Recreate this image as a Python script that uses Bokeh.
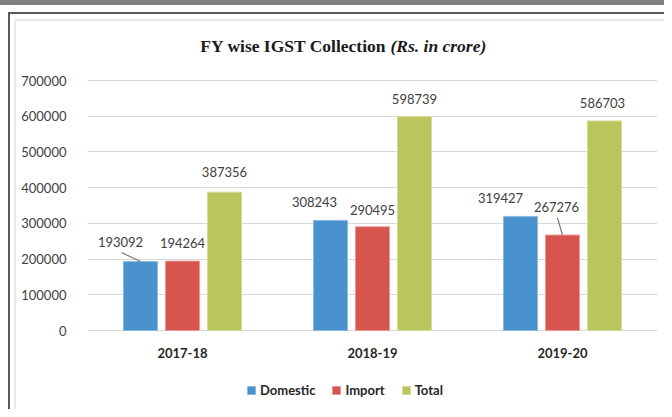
from bokeh.plotting import figure
from bokeh.models import (FactorRange, Range1d, FixedTicker, NumeralTickFormatter, Legend,
                          LegendItem, Label, ColumnDataSource)
from bokeh.transform import dodge
from bokeh.core.properties import value
from bokeh.embed import file_html
from bokeh.resources import INLINE

# ---- data ----
years = ["2017-18", "2018-19", "2019-20"]
domestic = [193092, 308243, 319427]
imports = [194264, 290495, 267276]
total = [387356, 598739, 586703]
series_names = ["Domestic", "Import", "Total"]
y_ticks = [0, 100000, 200000, 300000, 400000, 500000, 600000, 700000]

# ---- style ----
colors = ["#4A92CD", "#D8544F", "#BAC65C"]
edge = ["#8DB8E0", "#E89A97", "#D3DB9B"]
offsets = [-0.221, 0.0, 0.221]
bar_w = 0.179
# label nudges in px (per series, per year); negative dy = up
lab_dx = [[-20, -16, -20], [0, 0, -6], [0, 0, -2]]
lab_dy = [[-20, -18, -18], [-18, -17, -28], [-20, -18, -18]]
PX_X = 1 / 190.0     # category units per px
PX_Y = 2800.0        # data units per px
FONT = "Lato"

p = figure(x_range=FactorRange(*years), y_range=Range1d(-221200, 924000),
           width=664, height=409, output_backend="svg", toolbar_location=None,
           min_border_left=87, min_border_right=7, min_border_top=0, min_border_bottom=0)
p.outline_line_color = None
p.background_fill_color = None
p.border_fill_color = None
p.styles = {"box-shadow": ("inset 0 5px 0 0 #808080, inset 8px 12px 0 0 #ffffff, "
                           "inset 10px 14px 0 0 #5a5a5a, inset 14px 19px 0 0 #ffffff, "
                           "inset 16px 21px 0 0 #e8e8e8"),
            "background-color": "#ffffff"}
p.xgrid.grid_line_color = None
p.ygrid.grid_line_color = "#D9D9D9"
p.ygrid.grid_line_width = 1
p.ygrid.ticker = FixedTicker(ticks=y_ticks)

p.yaxis.ticker = FixedTicker(ticks=y_ticks)
p.yaxis.formatter = NumeralTickFormatter(format="0")
p.yaxis.axis_line_color = None
p.yaxis.major_tick_line_color = None
p.yaxis.minor_tick_line_color = None
p.yaxis.major_label_standoff = 15
p.yaxis.major_label_text_font = FONT
p.yaxis.major_label_text_font_size = "13px"
p.yaxis.major_label_text_color = "#404040"
p.xaxis.visible = False

# category labels (drawn in the frame, under the baseline)
p.text(x=years, y=[0] * len(years), text=years, y_offset=22,
       text_align="center", text_baseline="middle", text_font=value(FONT),
       text_font_style="bold", text_font_size="13px", text_color="#262626")

all_vals = [domestic, imports, total]
items = []
for i, (name, vals) in enumerate(zip(series_names, all_vals)):
    src = ColumnDataSource(dict(x=years, top=vals,
                                label=[str(v) for v in vals],
                                dx=lab_dx[i], dy=lab_dy[i]))
    r = p.vbar(x=dodge("x", offsets[i], range=p.x_range), top="top", bottom=0,
               width=bar_w, source=src, fill_color=colors[i], line_color=edge[i], line_width=1)
    items.append(LegendItem(label=name, renderers=[r]))
    p.text(x=dodge("x", offsets[i], range=p.x_range), y="top", text="label", source=src,
           x_offset="dx", y_offset="dy", text_align="center", text_baseline="middle",
           text_font=value(FONT), text_font_size="13px", text_color="#404040")

# leader lines (from label to bar top)
lead = [(0, 0), (1, 2)]
for s, c in lead:
    v = all_vals[s][c]
    src = ColumnDataSource(dict(x=[years[c]], y0=[v + (-lab_dy[s][c] - 11) * PX_Y], y1=[v]))
    p.segment(x0=dodge("x", offsets[s] + (lab_dx[s][c] + 1) * PX_X, range=p.x_range), y0="y0",
              x1=dodge("x", offsets[s], range=p.x_range), y1="y1", source=src,
              line_color="#7A7A7A", line_width=1.2)

legend = Legend(items=items, orientation="horizontal", location=(159, 11),
                glyph_width=10, glyph_height=10, label_standoff=4, spacing=16,
                padding=0, margin=0, border_line_color=None, background_fill_alpha=0,
                label_text_font=FONT, label_text_font_style="bold",
                label_text_font_size="13px", label_text_color="#262626")
p.add_layout(legend, "center")

# title (mixed style)
p.add_layout(Label(x=299, y=364, x_units="screen", y_units="screen",
                   text="FY wise IGST Collection", text_align="right", text_baseline="middle",
                   text_font="Liberation Serif", text_font_style="bold",
                   text_font_size="17.5px", text_color="#1A1A1A"))
p.add_layout(Label(x=303, y=364, x_units="screen", y_units="screen",
                   text="(Rs. in crore)", text_align="left", text_baseline="middle",
                   text_font="Liberation Serif", text_font_style="bold italic",
                   text_font_size="17.5px", text_color="#1A1A1A"))

open("out.html", "w").write(file_html(p, INLINE))
